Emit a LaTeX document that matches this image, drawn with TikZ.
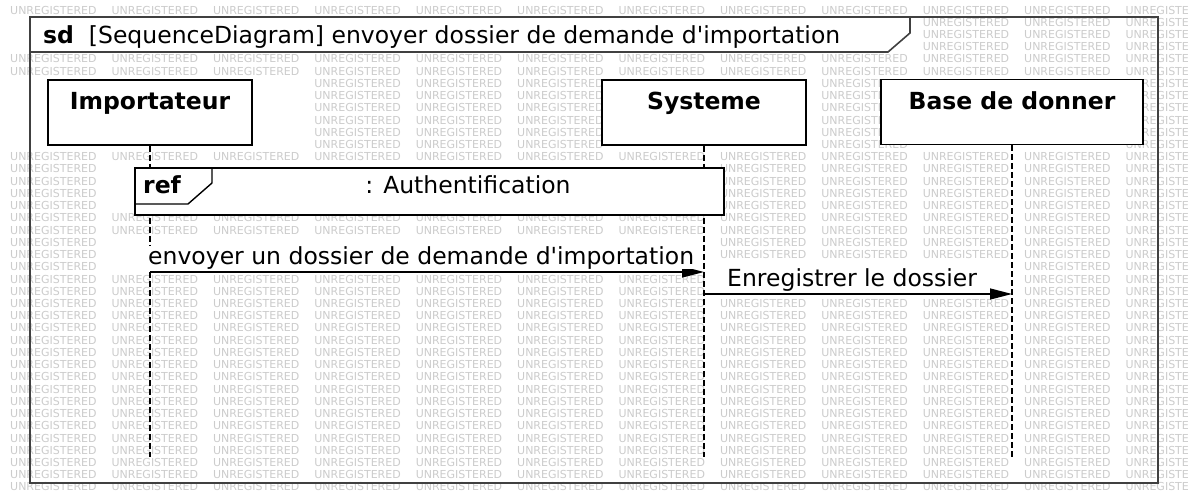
\documentclass[tikz,border=0pt]{standalone}
\usepackage{fontspec}
\setmainfont{DejaVu Sans}
\usetikzlibrary{arrows.meta}
\newif\ifwmhide

\begin{document}
\begin{tikzpicture}[x=1pt, y=-1pt,
    txt/.style={font=\fontsize{23.5}{28}\selectfont, inner sep=0pt},
    head/.style={draw, line width=1.6pt, fill=white, minimum width=204pt,
      text height=30pt, text depth=35pt, inner sep=0pt,
      font=\fontsize{23.5}{28}\selectfont\bfseries},
    lifeline/.style={line width=2pt, dash pattern=on 6pt off 3pt},
    msg/.style={line width=1.4pt, -{Triangle[length=22pt, width=11pt]}},
    wm/.style={font=\fontsize{11}{12}\selectfont, text=gray!40, inner sep=0pt, anchor=west}]
    \useasboundingbox[fill=white] (0,0) rectangle (1193,492);
    % watermark (left out where a white box hides most of it)
    \foreach \r in {0,...,39}
      \foreach \c in {0,...,11}{
        \pgfmathsetmacro{\wx}{10+\c*101.4}
        \pgfmathsetmacro{\wy}{10+\r*12.23}
        \global\wmhidefalse
        \foreach \xa/\ya/\xb/\yb in {30/17/910/52, 48/80/260/145, 602/80/806/145,
            881/80/1143/145, 135/168/724/215, 148/238/697/270, 727/262/980/292}{
          \pgfmathtruncatemacro{\hit}{and(and(\wx+43<\xb, \wx+43>\xa), and(\wy<\yb, \wy>\ya))}
          \ifnum\hit=1 \global\wmhidetrue\fi
        }
        \ifwmhide\else\node[wm] at (\wx,\wy) {\ifnum\c=11 UNREGISTE\else UNREGISTERED\fi};\fi
      }
    % frame
    \draw[line width=2pt, black!75] (30,17) rectangle (1158,483);
    \draw[line width=1.6pt, black!75, fill=white] (30,17) -- (910,17) -- (910,33) -- (888,52) -- (30,52) -- cycle;
    \node[txt, anchor=base west] (title) at (43,44) {\textbf{sd}\ \ [SequenceDiagram] envoyer dossier de demande d\textquotesingle importation};
    % lifelines
    \node[head] (imp) at (150,112.5) {Importateur};
    \node[head] (sys) at (704,112.5) {Systeme};
    \node[head, minimum width=262pt] (bdd) at (1012,112) {Base de donner};
    \coordinate (impEnd) at (150,457);
    \coordinate (sysEnd) at (704,457);
    \coordinate (bddEnd) at (1012,457);
    \draw[lifeline] (imp.south) -- (impEnd);
    \draw[lifeline] (sys.south) -- (sysEnd);
    \draw[lifeline] (bdd.south) -- (bddEnd);
    % ref
    \node[draw, fill=white, line width=1.6pt, minimum width=589pt, minimum height=47pt, inner sep=0pt] (ref) at (429.5,191.5) {};
    \draw[line width=1.4pt] (135,168) -- (212,168) -- (212,183) -- (188,204) -- (135,204);
    \node[txt, anchor=base west, font=\fontsize{23.5}{28}\selectfont\bfseries] (reftag) at (143,193) {ref};
    \node[txt, anchor=base] (auth) at (468,193) {: Authentification};
    % messages
    \coordinate (m1a) at (150,272);
    \coordinate (m1b) at (704,272);
    \coordinate (m2a) at (704,294);
    \coordinate (m2b) at (1012,294);
    \draw[msg] (m1a) -- (m1b);
    \draw[msg] (m2a) -- (m2b);
    \node[txt, anchor=base west, fill=white] (l1) at (148,264) {envoyer un dossier de demande d\textquotesingle importation};
    \node[txt, anchor=base west, fill=white] (l2) at (727,286) {Enregistrer le dossier};
\end{tikzpicture}
\end{document}
